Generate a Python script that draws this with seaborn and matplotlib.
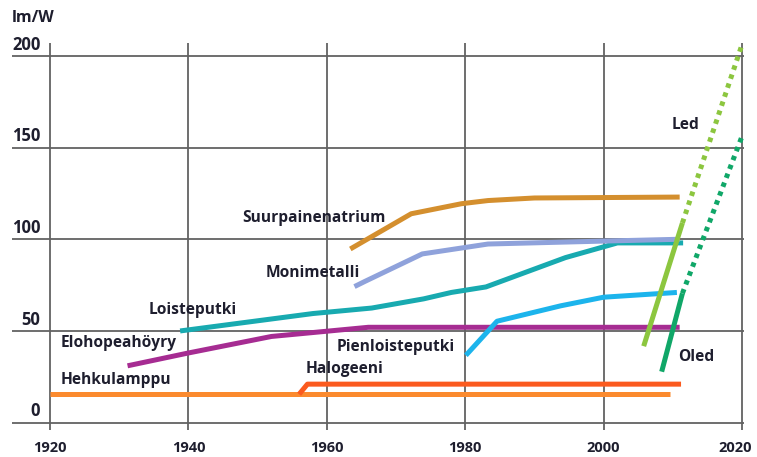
import matplotlib
matplotlib.use("Agg")
import matplotlib.pyplot as plt
import matplotlib.transforms as mtrans
import seaborn as sns

# axis ticks
year_ticks = [1920, 1940, 1960, 1980, 2000, 2020]
value_ticks = [0, 50, 100, 150, 200]
value_labels = ["0", "50", "100", "150", "200"]

# series (year, lm/W)
hehku_x = [1920, 2009.6]
hehku_y = [15.5, 15.5]

halogeeni_x = [1956, 1957.2, 2011.2]
halogeeni_y = [15.5, 21, 21]

elohopea_x = [1931.2, 1940, 1952, 1966, 2011]
elohopea_y = [31, 38, 47, 52, 52]

loiste_x = [1938.8, 1958, 1966.5, 1974, 1978, 1983, 1994.5, 2002, 2011.5]
loiste_y = [50, 59.5, 62.5, 67.5, 71, 74, 90, 98, 98]

monimetalli_x = [1964, 1965.5, 1973.8, 1983.3, 2000, 2011]
monimetalli_y = [74.2, 77, 92, 97.4, 99, 100]

natrium_x = [1963.4, 1972.2, 1979.5, 1983.3, 1990, 2011]
natrium_y = [94.7, 113.9, 119.4, 121.1, 122.5, 123]

pienloiste_x = [1980.1, 1984.6, 1993.8, 2000, 2010.6]
pienloiste_y = [36.7, 55.3, 63.7, 68.4, 71]

led_x = [2005.8, 2011.4]
led_y = [41.7, 108.9]
led_future_x = [2011.4, 2020]
led_future_y = [108.9, 206]

oled_x = [2008.4, 2011.4]
oled_y = [27.8, 70.5]
oled_future_x = [2011.4, 2020]
oled_future_y = [70.5, 156]

# label text and where it sits (left edge, centre)
labels = ["Suurpainenatrium", "Monimetalli", "Loisteputki", "Elohopeahöyry",
          "Hehkulamppu", "Pienloisteputki", "Halogeeni", "Led", "Oled"]
label_x = [1947.8, 1951.2, 1934.3, 1921.6, 1921.6, 1961.4, 1957.0, 2009.8, 2010.8]
label_y = [111.7, 81.6, 61.6, 43.3, 23.3, 41.1, 29.4, 162.5, 35.6]

sns.set_style("white")
plt.rcParams["font.family"] = ["Open Sans", "DejaVu Sans"]
txt = "#1e1e2e"

fig = plt.figure(figsize=(7.57, 4.57), dpi=100)
ax = fig.add_axes([12 / 757, 27 / 457, 732 / 757, 387 / 457])

lw = 3.6
solid = [
    (hehku_x, hehku_y, "#fb8a2e"),
    (halogeeni_x, halogeeni_y, "#fb5a1e"),
    (elohopea_x, elohopea_y, "#a62c92"),
    (loiste_x, loiste_y, "#18aab0"),
    (monimetalli_x, monimetalli_y, "#8fa2db"),
    (natrium_x, natrium_y, "#d48f2e"),
    (pienloiste_x, pienloiste_y, "#1cb4ec"),
    (led_x, led_y, "#8cc63f"),
    (oled_x, oled_y, "#10a768"),
]
for xs, ys, c in solid:
    sns.lineplot(x=xs, y=ys, color=c, lw=lw, sort=False, ax=ax,
                 solid_capstyle="butt")

for xs, ys, c in [(led_future_x, led_future_y, "#8cc63f"),
                  (oled_future_x, oled_future_y, "#10a768")]:
    sns.lineplot(x=xs, y=ys, color=c, lw=lw, sort=False, ax=ax,
                 dashes=False)
    ax.lines[-1].set_dashes((0.9, 1.0))
    ax.lines[-1].set_dash_capstyle("butt")

ax.set_xlim(1914.5, 2020.3)
ax.set_ylim(-4, 207)
ax.set_xticks(year_ticks)
ax.set_yticks(value_ticks)
ax.set_yticklabels([])
ax.grid(True, color="#626262", lw=1.3)
ax.set_axisbelow(True)
for s in ax.spines.values():
    s.set_visible(False)
ax.tick_params(axis="both", length=0)
ax.tick_params(axis="x", pad=8, labelsize=10.5, labelcolor=txt)
xlabs = ax.get_xticklabels()
for t in xlabs:
    t.set_fontweight("bold")
# last year label sits a little left of its grid line, inside the picture
xlabs[-1].set_transform(xlabs[-1].get_transform() +
                        mtrans.ScaledTranslation(-7 / 100, 0, fig.dpi_scale_trans))
ax.set_xlabel("")
ax.set_ylabel("")

for v, lab in zip(value_ticks, value_labels):
    ax.text(1918.6, v + 1.2, lab, ha="right", va="bottom", fontsize=12,
            fontweight="bold", color=txt)

for lab, x, y in zip(labels, label_x, label_y):
    ax.text(x, y, lab, ha="left", va="center", fontsize=11.2,
            fontweight="bold", color=txt)

fig.text(12 / 757, 1 - 18 / 457, "lm/W", ha="left", va="center",
         fontsize=11.5, fontweight="bold", color=txt)

fig.savefig("out.png", dpi=100)
